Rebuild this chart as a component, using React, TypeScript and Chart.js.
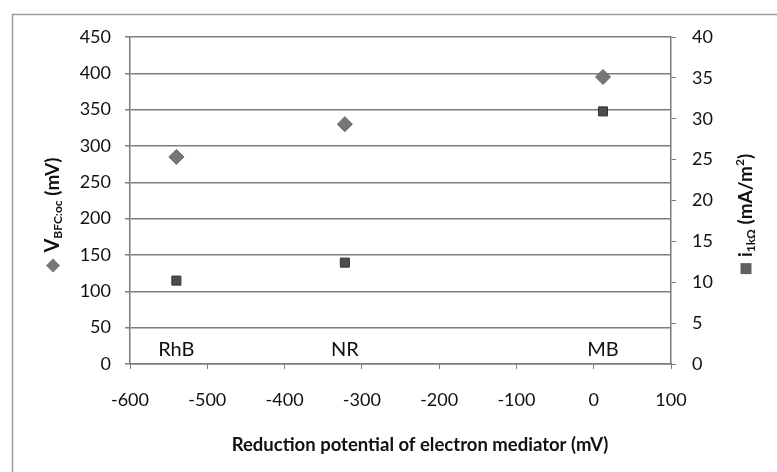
import React, { useEffect, useRef } from 'react';
import { Chart, registerables } from 'chart.js';

Chart.register(...registerables);

// ---- data ----
const mediatorNames = ['RhB', 'NR', 'MB'];
const reductionPotentials = [-540, -322, 12]; // mV
const openCircuitVoltage = [285, 330, 395]; // mV (left axis)
const currentDensity = [10.2, 12.4, 30.9]; // mA/m2 (right axis)
const nameLabelLevel = 20; // left-axis value where the mediator names sit

const xTitle = 'Reduction potential of electron mediator (mV)';
const FONT = 'Lato, "Open Sans", "DejaVu Sans", sans-serif';

function drawRich(ctx: CanvasRenderingContext2D, parts: { t: string; size: number; dy: number }[], marker: 'diamond' | 'square', cx: number, cy: number) {
  ctx.save();
  ctx.translate(cx, cy);
  ctx.rotate(-Math.PI / 2);
  const markerW = marker === 'diamond' ? 14 : 11;
  const gap = 6;
  let total = markerW + gap;
  for (const p of parts) {
    ctx.font = `bold ${p.size}px ${FONT}`;
    total += ctx.measureText(p.t).width;
  }
  let x = -total / 2;
  if (marker === 'diamond') {
    ctx.fillStyle = '#777777';
    ctx.beginPath();
    ctx.moveTo(x, 0);
    ctx.lineTo(x + 7, -7);
    ctx.lineTo(x + 14, 0);
    ctx.lineTo(x + 7, 7);
    ctx.closePath();
    ctx.fill();
  } else {
    ctx.fillStyle = '#606060';
    ctx.fillRect(x, -5.5, 11, 11);
  }
  x += markerW + gap;
  ctx.fillStyle = '#111111';
  ctx.textBaseline = 'middle';
  ctx.textAlign = 'left';
  for (const p of parts) {
    ctx.font = `bold ${p.size}px ${FONT}`;
    ctx.fillText(p.t, x, p.dy);
    x += ctx.measureText(p.t).width;
  }
  ctx.restore();
}

const decorPlugin = {
  id: 'decor',
  beforeDraw(chart: any) {
    const { ctx, width, height } = chart;
    ctx.save();
    ctx.fillStyle = '#ffffff';
    ctx.fillRect(0, 0, width, height);
    ctx.strokeStyle = '#9a9a9a';
    ctx.lineWidth = 1.5;
    ctx.strokeRect(12.5, 14.5, width + 20, height + 20);
    ctx.restore();
  },
  afterDraw(chart: any) {
    const { ctx } = chart;
    const xs = chart.scales.x;
    const ys = chart.scales.y;
    ctx.save();
    ctx.font = `20px ${FONT}`;
    ctx.fillStyle = '#111111';
    ctx.textAlign = 'center';
    ctx.textBaseline = 'middle';
    mediatorNames.forEach((n, i) => {
      ctx.fillText(n, xs.getPixelForValue(reductionPotentials[i]), ys.getPixelForValue(nameLabelLevel));
    });
    ctx.font = `bold 18.5px ${FONT}`;
    ctx.fillText(xTitle, 420, 445);
    ctx.restore();

    drawRich(ctx, [
      { t: 'V', size: 20, dy: 0 },
      { t: 'BFC:oc', size: 12, dy: 5 },
      { t: ' (mV)', size: 19, dy: 0 },
    ], 'diamond', 53, 215);

    drawRich(ctx, [
      { t: 'i', size: 19, dy: 0 },
      { t: '1kΩ', size: 12, dy: 5 },
      { t: ' (mA/m', size: 19, dy: 0 },
      { t: '2', size: 12, dy: -6 },
      { t: ')', size: 19, dy: 0 },
    ], 'square', 746, 214);
  },
};

export default function App() {
  const ref = useRef<HTMLCanvasElement>(null);
  useEffect(() => {
    if (!ref.current) return;
    const tickFont = { family: FONT, size: 18 };
    const chart = new Chart(ref.current, {
      type: 'scatter',
      data: {
        datasets: [
          {
            label: 'V_BFC:oc (mV)',
            data: reductionPotentials.map((x, i) => ({ x, y: openCircuitVoltage[i] })),
            yAxisID: 'y',
            pointStyle: 'rectRot',
            pointRadius: 7.5,
            pointHoverRadius: 7.5,
            backgroundColor: '#777777',
            borderColor: '#666666',
            borderWidth: 1,
          },
          {
            label: 'i_1kΩ (mA/m2)',
            data: reductionPotentials.map((x, i) => ({ x, y: currentDensity[i] })),
            yAxisID: 'y1',
            pointStyle: 'rect',
            pointRadius: 6.4,
            pointHoverRadius: 6.4,
            backgroundColor: '#4d4d4d',
            borderColor: '#333333',
            borderWidth: 1,
          },
        ],
      },
      options: {
        animation: false,
        responsive: false,
        layout: { padding: { top: 37, left: 0, right: 0, bottom: 0 } },
        plugins: { legend: { display: false }, tooltip: { enabled: false } },
        scales: {
          x: {
            type: 'linear',
            min: -600,
            max: 100,
            ticks: { stepSize: 100, font: tickFont, color: '#111111', padding: 20, maxRotation: 0 },
            grid: { drawOnChartArea: false, drawTicks: true, tickLength: 5, color: '#7a7a7a' },
            border: { color: '#7a7a7a', width: 1.5 },
            afterFit: (s: any) => { s.height = 108; },
          },
          y: {
            position: 'left',
            min: 0,
            max: 450,
            ticks: { stepSize: 50, font: tickFont, color: '#111111', padding: 14 },
            grid: { color: '#7d7d7d', lineWidth: 1.5, tickLength: 5 },
            border: { color: '#7a7a7a', width: 1.5 },
            afterFit: (s: any) => { s.width = 130; },
          },
          y1: {
            position: 'right',
            min: 0,
            max: 40,
            ticks: { stepSize: 5, font: tickFont, color: '#111111', padding: 16 },
            grid: { drawOnChartArea: false, tickLength: 5, color: '#7a7a7a' },
            border: { color: '#7a7a7a', width: 1.5 },
            afterFit: (s: any) => { s.width = 106; },
          },
        },
      },
      plugins: [decorPlugin],
    } as any);
    return () => chart.destroy();
  }, []);
  return (
    <div style={{ position: 'fixed', left: 0, top: 0, width: 777, height: 472, background: '#fff' }}>
      <canvas ref={ref} width={777} height={472} style={{ width: 777, height: 472, display: 'block' }} />
    </div>
  );
}
